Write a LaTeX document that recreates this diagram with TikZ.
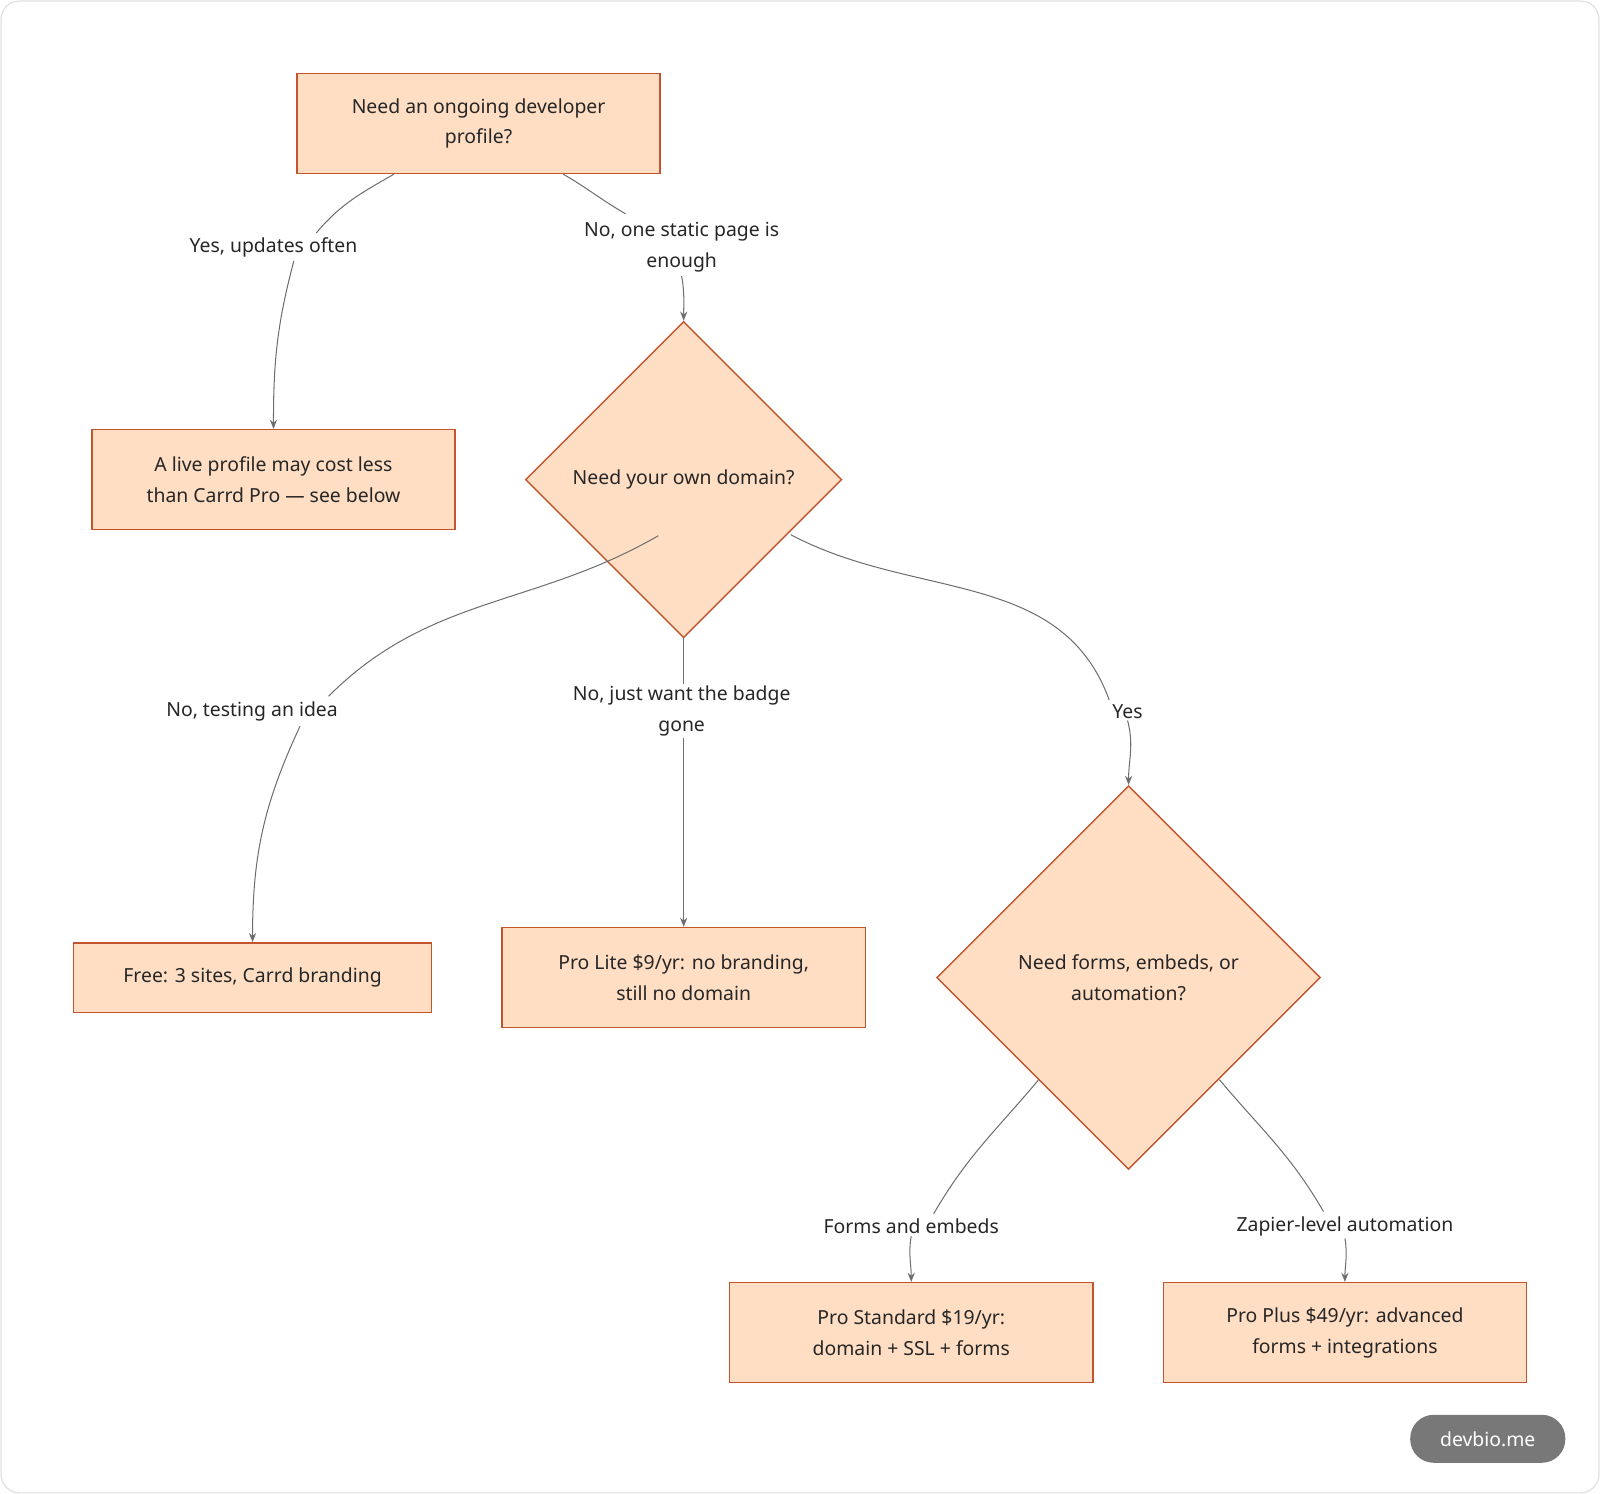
\documentclass[tikz,border=0pt]{standalone}
\usepackage{fontspec}
\setmainfont{Noto Sans}
\usetikzlibrary{shapes.geometric,arrows.meta}
\definecolor{pfill}{HTML}{FFDEC4}
\definecolor{pline}{HTML}{C2552D}
\definecolor{eline}{HTML}{6E6E6E}
\begin{document}
\begin{tikzpicture}[x=1pt,y=-1pt,
  every node/.style={font=\fontsize{19}{30}\selectfont,text=black!85,align=center},
  box/.style={draw=pline,fill=pfill,line width=1.4pt,minimum width=356pt,minimum height=98pt,inner sep=0pt},
  dia/.style={draw=pline,fill=pfill,line width=1.4pt,diamond,aspect=1,inner sep=0pt},
  lab/.style={inner sep=2pt},
  edge/.style={draw=eline,line width=1pt,-{Stealth[length=9pt,width=7pt]}},
  seg/.style={draw=eline,line width=1pt}]
\useasboundingbox (0,0) rectangle (1568,1464);
\draw[black!12,line width=1.2pt,rounded corners=18pt] (1,1) rectangle (1567,1463);
\node[box] (top) at (469,121) {Need an ongoing developer\\profile?};
\node[box] (live) at (268,470) {A live profile may cost less\\than Carrd Pro — see below};
\node[dia,minimum width=310pt,minimum height=310pt] (d1) at (670,470) {Need your own domain?};
\node[box,minimum width=351pt,minimum height=68pt] (free) at (247.5,958) {Free: 3 sites, Carrd branding};
\node[box] (lite) at (670,958) {Pro Lite \$9/yr: no branding,\\still no domain};
\node[dia,minimum width=376pt,minimum height=376pt] (d2) at (1106,958) {Need forms, embeds, or\\automation?};
\node[box] (std) at (893,1306) {Pro Standard \$19/yr:\\domain + SSL + forms};
\node[box] (plus) at (1318,1306) {Pro Plus \$49/yr: advanced\\forms + integrations};
\node[fill=black!53,rounded corners=23pt,minimum width=152pt,minimum height=47pt,text=white,font=\fontsize{19}{22}\selectfont] (badge) at (1458,1410) {devbio.me};

\node[lab] (l1) at (268,242) {Yes, updates often};
\node[lab] (l2) at (668,242) {No, one static page is\\enough};
\node[lab] (l3) at (247,697) {No, testing an idea};
\node[lab] (l4) at (668,697) {No, just want the badge\\gone};
\node[lab] (l5) at (1105,697) {Yes};
\node[lab] (l6) at (893,1202) {Forms and embeds};
\node[lab] (l7) at (1318,1202) {Zapier-level automation};

\draw[seg] ([xshift=-83pt]top.south) to[out=-150,in=50] ([xshift=42pt,yshift=2pt]l1.north);
\draw[edge] ([xshift=20pt,yshift=-2pt]l1.south) to[out=-105,in=90] (live.north);
\draw[seg] ([xshift=83pt]top.south) to[out=-30,in=150] ([xshift=-55pt,yshift=6pt]l2.north);
\draw[edge] ([xshift=0pt,yshift=-2pt]l2.south) to[out=-80,in=90] (d1.north);
\draw[seg] (d1.north west |- 0,525) ++(53,0) coordinate (a3) (a3) to[out=-150,in=45] ([xshift=75pt,yshift=3pt]l3.north);
\draw[edge] ([xshift=47pt,yshift=-3pt]l3.south) to[out=-115,in=90] (free.north);
\draw[seg] (d1.south) -- (d1.south |- l4.north);
\draw[edge] ([xshift=2pt]l4.south) -- (lite.north);
\draw[seg] (775,524) coordinate (a5) (a5) to[out=-28,in=110] ([xshift=-18pt,yshift=2pt]l5.north);
\draw[edge] (l5.south) to[out=-75,in=90] (d2.north);
\draw[seg] (1018,1058) coordinate (a6) (a6) to[out=-130,in=60] ([xshift=22pt,yshift=3pt]l6.north);
\draw[edge] (l6.south) to[out=-100,in=90] (std.north);
\draw[seg] (1195,1058) coordinate (a7) (a7) to[out=-50,in=120] ([xshift=-21pt,yshift=3pt]l7.north);
\draw[edge] (l7.south) to[out=-80,in=90] (plus.north);
\end{tikzpicture}
\end{document}
